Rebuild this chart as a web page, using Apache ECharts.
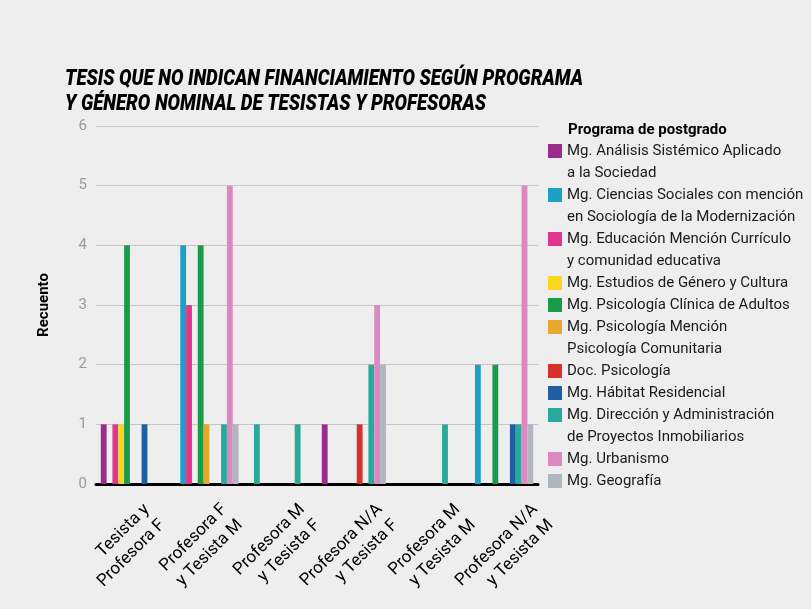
<!DOCTYPE html>
<html>
<head>
<meta charset="utf-8">
<script src="https://cdn.jsdelivr.net/npm/echarts@6/dist/echarts.min.js"></script>
<style>
  html, body { margin: 0; padding: 0; }
  #chart { width: 811px; height: 609px; }
</style>
</head>
<body>
<div id="chart"></div>
<script>
// categorías del eje x (género de tesista / profesora)
const categories = [
  'Tesista y\nProfesora F',
  'Profesora F\ny Tesista M',
  'Profesora M\ny Tesista F',
  'Profesora N/A\ny Tesista F',
  'Profesora M\ny Tesista M',
  'Profesora N/A\ny Tesista M'
]

// recuento por programa
const analisisSistemico = [1, 0, 0, 1, 0, 0]
const cienciasSociales = [0, 4, 1, 0, 0, 2]
const educacion = [1, 3, 0, 0, 0, 0]
const estudiosGenero = [1, 0, 0, 0, 0, 0]
const psicologiaClinica = [4, 4, 0, 0, 0, 2]
const psicologiaComunitaria = [0, 1, 0, 0, 0, 0]
const docPsicologia = [0, 0, 0, 1, 0, 0]
const habitatResidencial = [1, 0, 0, 0, 0, 1]
const direccionInmobiliarios = [0, 1, 1, 2, 1, 1]
const urbanismo = [0, 5, 0, 3, 0, 5]
const geografia = [0, 1, 0, 2, 0, 1]

const yTicks = [0, 1, 2, 3, 4, 5, 6]

const FONT = 'Roboto, "Liberation Sans", sans-serif'
const TITLE = 'TESIS QUE NO INDICAN FINANCIAMIENTO SEGÚN PROGRAMA\nY GÉNERO NOMINAL DE TESISTAS Y PROFESORAS'
const TITLE_FONT = 'italic 900 22px Roboto'

const programas = [
  { name: 'Mg. Análisis Sistémico Aplicado a la Sociedad', label: 'Mg. Análisis Sistémico Aplicado\na la Sociedad', data: analisisSistemico, color: '#9b2c8b' },
  { name: 'Mg. Ciencias Sociales con mención en Sociología de la Modernización', label: 'Mg. Ciencias Sociales con mención\nen Sociología de la Modernización', data: cienciasSociales, color: '#1d9fc6' },
  { name: 'Mg. Educación Mención Currículo y comunidad educativa', label: 'Mg. Educación Mención Currículo\ny comunidad educativa', data: educacion, color: '#e0358f' },
  { name: 'Mg. Estudios de Género y Cultura', label: 'Mg. Estudios de Género y Cultura', data: estudiosGenero, color: '#f8d71d' },
  { name: 'Mg. Psicología Clínica de Adultos', label: 'Mg. Psicología Clínica de Adultos', data: psicologiaClinica, color: '#1a9b4a' },
  { name: 'Mg. Psicología Mención Psicología Comunitaria', label: 'Mg. Psicología Mención\nPsicología Comunitaria', data: psicologiaComunitaria, color: '#e8a82c' },
  { name: 'Doc. Psicología', label: 'Doc. Psicología', data: docPsicologia, color: '#d8302a' },
  { name: 'Mg. Hábitat Residencial', label: 'Mg. Hábitat Residencial', data: habitatResidencial, color: '#1e5fa4' },
  { name: 'Mg. Dirección y Administración de Proyectos Inmobiliarios', label: 'Mg. Dirección y Administración\nde Proyectos Inmobiliarios', data: direccionInmobiliarios, color: '#27a99b' },
  { name: 'Mg. Urbanismo', label: 'Mg. Urbanismo', data: urbanismo, color: '#dd89c1' },
  { name: 'Mg. Geografía', label: 'Mg. Geografía', data: geografia, color: '#b1b5bd' }
]

// el título es una fuente condensada: medir y comprimir en x
const ctx = document.createElement('canvas').getContext('2d')
ctx.font = TITLE_FONT
const titleW = Math.max(...TITLE.split('\n').map((l) => ctx.measureText(l).width))
const titleScale = 518 / titleW

const chart = echarts.init(document.getElementById('chart'))

// una leyenda por programa; la línea en blanco inicial deja el cuadro alineado con la 1ª línea
let legendY = 151
const legends = programas.map((p) => {
  const twoLines = p.label.indexOf('\n') >= 0
  const item = {
    orient: 'vertical',
    left: 548,
    top: twoLines ? legendY - 33 : legendY - 11,
    padding: 0,
    itemWidth: 14,
    itemHeight: 14,
    icon: 'rect',
    selectedMode: false,
    data: [{ name: p.name }],
    formatter: () => (twoLines ? '\n' + p.label : p.label),
    textStyle: {
      fontFamily: FONT,
      fontSize: 15,
      color: '#1a1a1a',
      lineHeight: 22
    }
  }
  legendY += twoLines ? 44 : 22
  return item
})

chart.setOption({
  backgroundColor: '#eeeeee',
  animation: false,
  title: {
    text: 'Programa de postgrado',
    left: 563,
    top: 118,
    textStyle: { fontFamily: FONT, fontSize: 15, fontWeight: 'bold', color: '#000' }
  },
  graphic: [
    {
      type: 'text',
      x: 65,
      y: 67,
      scaleX: titleScale,
      style: { text: TITLE, font: TITLE_FONT, lineHeight: 25, fill: '#000' }
    }
  ],
  legend: legends,
  grid: [
    { left: 96, right: 273, top: 126, bottom: 125 },
    // rejilla auxiliar solo para las etiquetas del eje x (en el original van algo desplazadas)
    { left: 108, right: 237, top: 126, bottom: 125 }
  ],
  xAxis: [
    {
      type: 'category',
      gridIndex: 0,
      data: categories,
      axisLine: { show: true, lineStyle: { color: '#000', width: 3 } },
      axisTick: { show: false },
      axisLabel: { show: false }
    },
    {
      type: 'category',
      gridIndex: 1,
      data: categories,
      axisLine: { show: false },
      axisTick: { show: false },
      splitLine: { show: false },
      axisLabel: {
        rotate: 45,
        interval: 0,
        margin: 24,
        fontFamily: FONT,
        fontSize: 17,
        lineHeight: 22,
        color: '#000',
        // línea en blanco para que la primera línea quede sobre el punto de anclaje
        formatter: (v) => '\n' + v
      }
    }
  ],
  yAxis: [
    {
      type: 'value',
      gridIndex: 0,
      min: yTicks[0],
      max: yTicks[yTicks.length - 1],
      interval: 1,
      name: 'Recuento',
      nameLocation: 'middle',
      nameRotate: 90,
      nameGap: 44,
      nameTextStyle: { fontFamily: FONT, fontSize: 15, fontWeight: 'bold', color: '#000' },
      axisLine: { show: false },
      axisTick: { show: false },
      axisLabel: { fontFamily: FONT, fontSize: 15, color: '#999', margin: 9 },
      splitLine: { lineStyle: { color: '#c6c6c6', width: 1 } }
    },
    {
      type: 'value',
      gridIndex: 1,
      show: false,
      min: yTicks[0],
      max: yTicks[yTicks.length - 1],
      splitLine: { show: false }
    }
  ],
  series: programas.map((p, si) => ({
    name: p.name,
    type: 'bar',
    xAxisIndex: 0,
    yAxisIndex: 0,
    barGap: '0%',
    barCategoryGap: '13%',
    itemStyle: { color: p.color },
    // en la fuente, la barra de Ciencias Sociales en la 3ª categoría aparece en color verde azulado
    data: p.data.map((v, ci) => (si === 1 && ci === 2 ? { value: v, itemStyle: { color: programas[8].color } } : v))
  }))
})
</script>
</body>
</html>
